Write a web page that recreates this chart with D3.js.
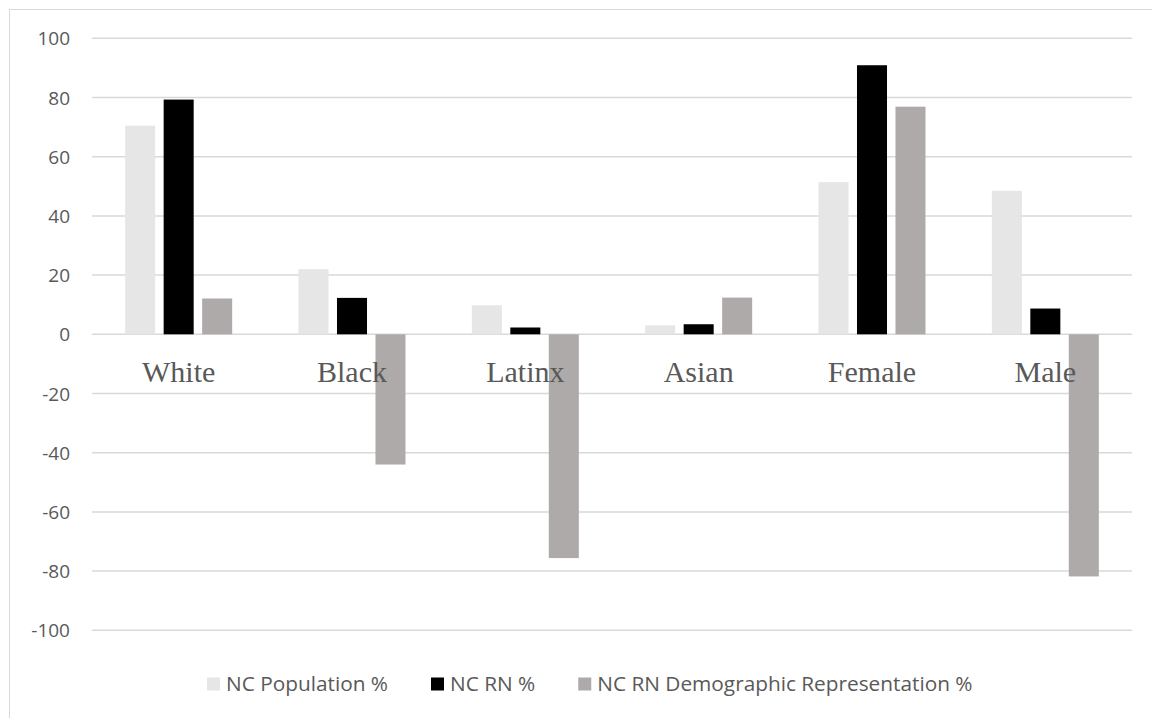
<!DOCTYPE html>
<html>
<head>
<meta charset="utf-8">
<script src="https://cdn.jsdelivr.net/npm/d3@7"></script>
<style>
  html, body { margin: 0; padding: 0; background: #fff; }
  svg { display: block; }
</style>
</head>
<body>
<svg id="chart" width="1152" height="718"></svg>
<script>
// Categories and the three series, in percent
const categories = ["White", "Black", "Latinx", "Asian", "Female", "Male"];
const seriesNames = ["NC Population %", "NC RN %", "NC RN Demographic Representation %"];
const populationPct = [70.5, 22.0, 9.8, 3.0, 51.4, 48.5];
const rnPct = [79.3, 12.3, 2.3, 3.4, 90.9, 8.7];
const representationPct = [12.1, -44.0, -75.6, 12.4, 76.9, -81.8];
const yTicks = [100, 80, 60, 40, 20, 0, -20, -40, -60, -80, -100];

const seriesColors = ["#e7e6e6", "#000000", "#aeaaaa"];
const seriesValues = [populationPct, rnPct, representationPct];

const svg = d3.select("#chart");

// Outer chart frame (runs off the right and bottom edges)
svg.append("rect")
  .attr("x", 9.5).attr("y", 9.5)
  .attr("width", 1200).attr("height", 800)
  .attr("fill", "#fff")
  .attr("stroke", "#d9d9d9").attr("stroke-width", 1);

const plotLeft = 92, plotRight = 1132;
const y = d3.scaleLinear().domain([-100, 100]).range([630.3, 38.3]);
const x0 = d3.scaleBand().domain(categories).range([plotLeft, plotRight]).padding(0);
const x1 = d3.scaleBand().domain(seriesNames).range([-53.5, 53.5]).paddingInner(0.22).paddingOuter(0);

// Horizontal gridlines
svg.append("g").selectAll("line")
  .data(yTicks)
  .join("line")
  .attr("x1", plotLeft).attr("x2", plotRight)
  .attr("y1", d => y(d)).attr("y2", d => y(d))
  .attr("stroke", "#d9d9d9").attr("stroke-width", 1.5);

// Y axis labels (plain hyphen for negatives)
const yAxis = d3.axisLeft(y).tickValues(yTicks).tickSize(0).tickPadding(0)
  .tickFormat(d => String(d));
const yg = svg.append("g")
  .attr("transform", `translate(70,0)`)
  .call(yAxis);
yg.select(".domain").remove();
yg.selectAll("text")
  .attr("fill", "#595959")
  .attr("font-family", "'Open Sans', 'Liberation Sans', sans-serif")
  .attr("font-size", 19)
  .attr("dy", "0.35em");

// Bars
const groups = svg.append("g").selectAll("g")
  .data(categories)
  .join("g")
  .attr("transform", d => `translate(${x0(d) + x0.bandwidth() / 2},0)`);

groups.selectAll("rect")
  .data((c, i) => seriesNames.map((s, k) => ({ s, k, v: seriesValues[k][i] })))
  .join("rect")
  .attr("x", d => x1(d.s))
  .attr("width", x1.bandwidth())
  .attr("y", d => y(Math.max(0, d.v)))
  .attr("height", d => Math.abs(y(d.v) - y(0)))
  .attr("fill", d => seriesColors[d.k]);

// Category labels just under the zero line, drawn over the bars
svg.append("g").selectAll("text")
  .data(categories)
  .join("text")
  .attr("x", d => x0(d) + x0.bandwidth() / 2)
  .attr("y", 381.7)
  .attr("text-anchor", "middle")
  .attr("fill", "#595959")
  .attr("font-family", "'Liberation Serif', 'Times New Roman', serif")
  .attr("font-size", 30)
  .text(d => d);

// Legend
const legend = svg.append("g").attr("transform", "translate(0,684)");
let lx = 207;
seriesNames.forEach((name, k) => {
  legend.append("rect")
    .attr("x", lx).attr("y", -6.5)
    .attr("width", 13).attr("height", 13)
    .attr("fill", seriesColors[k]);
  const t = legend.append("text")
    .attr("x", lx + 19).attr("y", 0)
    .attr("dy", "0.35em")
    .attr("fill", "#595959")
    .attr("font-family", "'Open Sans', 'Liberation Sans', sans-serif")
    .attr("font-size", 20.8)
    .text(name);
  lx += 19 + t.node().getComputedTextLength() + 43;
});
</script>
</body>
</html>
